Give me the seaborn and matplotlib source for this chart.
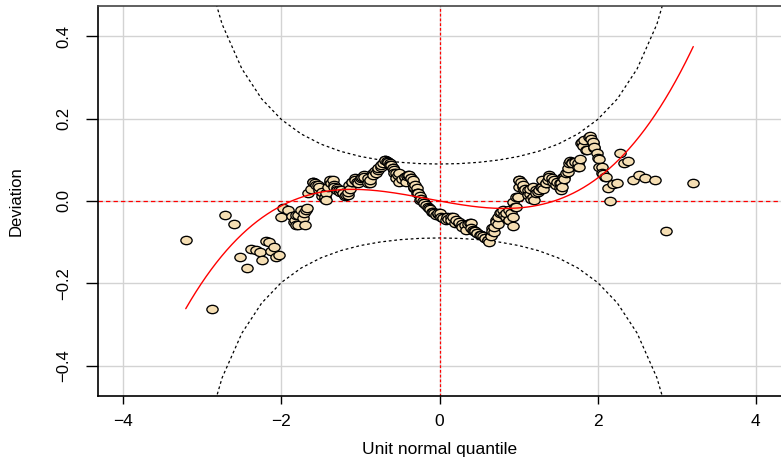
import numpy as np
import seaborn as sns
import matplotlib.pyplot as plt
from math import erf
from matplotlib.path import Path
from matplotlib.transforms import Affine2D

# worm points: unit normal quantile vs deviation
worm_x = [-3.21, -2.88, -2.71, -2.60, -2.52, -2.44, -2.39, -2.32, -2.27, -2.24,
          -2.20, -2.16, -2.13, -2.10, -2.07, -2.03, -2.01, -1.98, -1.92, -1.87,
          -1.84, -1.83, -1.81, -1.81, -1.79, -1.79, -1.75, -1.73, -1.72, -1.70,
          -1.69, -1.68, -1.66, -1.63, -1.60, -1.60, -1.57, -1.56, -1.54, -1.52,
          -1.52, -1.49, -1.49, -1.45, -1.45, -1.43, -1.43, -1.41, -1.39, -1.39,
          -1.37, -1.35, -1.33, -1.33, -1.30, -1.30, -1.27, -1.26, -1.24, -1.22,
          -1.22, -1.19, -1.18, -1.16, -1.16, -1.14, -1.13, -1.11, -1.11, -1.07,
          -1.07, -1.04, -1.03, -1.01, -0.99, -0.98, -0.95, -0.95, -0.91, -0.91,
          -0.88, -0.88, -0.84, -0.84, -0.81, -0.80, -0.78, -0.78, -0.74, -0.74,
          -0.71, -0.69, -0.69, -0.67, -0.65, -0.65, -0.63, -0.63, -0.61, -0.59,
          -0.59, -0.57, -0.57, -0.55, -0.55, -0.53, -0.51, -0.51, -0.48, -0.44,
          -0.44, -0.42, -0.41, -0.40, -0.38, -0.36, -0.36, -0.34, -0.34, -0.34,
          -0.32, -0.32, -0.31, -0.29, -0.29, -0.27, -0.27, -0.25, -0.25, -0.23,
          -0.21, -0.19, -0.19, -0.17, -0.15, -0.13, -0.12, -0.10, -0.08, -0.07,
          -0.04, -0.02, -0.02, 0.00, 0.02, 0.04, 0.05, 0.08, 0.10, 0.11,
          0.14, 0.15, 0.17, 0.19, 0.21, 0.25, 0.25, 0.28, 0.29, 0.32,
          0.34, 0.36, 0.38, 0.40, 0.40, 0.42, 0.44, 0.45, 0.48, 0.48,
          0.51, 0.53, 0.55, 0.57, 0.58, 0.61, 0.61, 0.63, 0.65, 0.65,
          0.67, 0.67, 0.69, 0.69, 0.72, 0.72, 0.74, 0.74, 0.76, 0.78,
          0.80, 0.82, 0.84, 0.84, 0.88, 0.88, 0.88, 0.91, 0.93, 0.93,
          0.93, 0.95, 0.97, 0.97, 0.99, 0.99, 1.00, 1.01, 1.01, 1.03,
          1.05, 1.05, 1.07, 1.08, 1.12, 1.12, 1.15, 1.15, 1.16, 1.18,
          1.18, 1.20, 1.22, 1.22, 1.25, 1.26, 1.28, 1.30, 1.30, 1.31,
          1.35, 1.35, 1.37, 1.39, 1.39, 1.42, 1.43, 1.45, 1.47, 1.48,
          1.52, 1.52, 1.54, 1.54, 1.55, 1.56, 1.58, 1.58, 1.60, 1.62,
          1.62, 1.64, 1.65, 1.68, 1.68, 1.72, 1.75, 1.75, 1.77, 1.78,
          1.79, 1.80, 1.82, 1.83, 1.85, 1.87, 1.89, 1.90, 1.92, 1.94,
          1.94, 1.96, 1.96, 1.99, 2.00, 2.02, 2.02, 2.05, 2.06, 2.07,
          2.09, 2.10, 2.13, 2.16, 2.20, 2.25, 2.28, 2.33, 2.39, 2.45,
          2.52, 2.60, 2.72, 2.87, 3.21]
worm_y = [-0.095, -0.262, -0.033, -0.056, -0.137, -0.163, -0.116, -0.120, -0.125, -0.144,
          -0.096, -0.100, -0.121, -0.111, -0.135, -0.131, -0.040, -0.018, -0.023, -0.036,
          -0.052, -0.046, -0.059, -0.034, -0.034, -0.058, -0.022, -0.042, -0.030, -0.058,
          -0.022, -0.018, 0.019, 0.030, 0.047, 0.047, 0.043, 0.039, 0.039, 0.027,
          0.035, 0.012, 0.023, 0.006, 0.010, 0.019, 0.002, 0.035, 0.047, 0.051,
          0.043, 0.052, 0.039, 0.035, 0.031, 0.027, 0.027, 0.023, 0.027, 0.019,
          0.019, 0.012, 0.015, 0.015, 0.023, 0.039, 0.030, 0.047, 0.047, 0.055,
          0.051, 0.045, 0.043, 0.051, 0.055, 0.058, 0.063, 0.059, 0.055, 0.043,
          0.043, 0.051, 0.067, 0.063, 0.072, 0.067, 0.075, 0.079, 0.083, 0.087,
          0.092, 0.099, 0.099, 0.097, 0.095, 0.095, 0.091, 0.087, 0.087, 0.080,
          0.079, 0.075, 0.067, 0.068, 0.055, 0.063, 0.047, 0.067, 0.053, 0.059,
          0.059, 0.047, 0.061, 0.063, 0.063, 0.055, 0.055, 0.047, 0.043, 0.051,
          0.031, 0.035, 0.038, 0.031, 0.019, 0.019, 0.019, 0.012, 0.002, 0.006,
          0.000, -0.006, -0.006, -0.010, -0.014, -0.018, -0.020, -0.026, -0.026, -0.028,
          -0.034, -0.032, -0.030, -0.030, -0.038, -0.042, -0.042, -0.046, -0.038, -0.044,
          -0.038, -0.046, -0.038, -0.054, -0.046, -0.054, -0.050, -0.056, -0.062, -0.058,
          -0.070, -0.055, -0.054, -0.054, -0.066, -0.070, -0.074, -0.074, -0.078, -0.078,
          -0.082, -0.082, -0.086, -0.090, -0.090, -0.095, -0.095, -0.100, -0.082, -0.086,
          -0.066, -0.074, -0.075, -0.062, -0.046, -0.050, -0.056, -0.038, -0.030, -0.026,
          -0.022, -0.034, -0.038, -0.030, -0.045, -0.046, -0.022, -0.030, -0.060, -0.038,
          -0.002, -0.014, -0.014, 0.010, 0.010, 0.010, 0.035, 0.051, 0.051, 0.045,
          0.035, 0.039, 0.027, 0.030, 0.027, 0.015, 0.018, 0.030, 0.006, 0.010,
          0.035, 0.002, 0.027, 0.019, 0.022, 0.027, 0.035, 0.035, 0.051, 0.030,
          0.043, 0.043, 0.052, 0.063, 0.059, 0.055, 0.047, 0.051, 0.039, 0.047,
          0.043, 0.031, 0.043, 0.027, 0.035, 0.059, 0.059, 0.053, 0.067, 0.071,
          0.080, 0.091, 0.098, 0.095, 0.091, 0.095, 0.083, 0.091, 0.083, 0.101,
          0.140, 0.144, 0.133, 0.148, 0.124, 0.124, 0.156, 0.158, 0.150, 0.140,
          0.144, 0.128, 0.132, 0.116, 0.104, 0.102, 0.083, 0.083, 0.067, 0.066,
          0.059, 0.059, 0.032, 0.001, 0.041, 0.044, 0.117, 0.091, 0.096, 0.051,
          0.063, 0.056, 0.051, -0.072, 0.043]

# fitted cubic (red) and its x range
cubic_coef = [0.0, -0.0354, 0.0055, 0.01305]   # a + b x + c x^2 + d x^3
cubic_range = [-3.21, 3.21]

n_obs = 750          # sample size behind the 95% bands
xlim_all = 4
ylim_all = 12 * np.sqrt(1 / n_obs)

x_ticks = [-4, -2, 0, 2, 4]
y_ticks = [-0.4, -0.2, 0.0, 0.2, 0.4]

sns.set_style("white")
plt.rcParams['font.family'] = ['Liberation Sans', 'DejaVu Sans']
plt.rcParams['text.color'] = 'black'
plt.rcParams['axes.labelcolor'] = 'black'
plt.rcParams['xtick.color'] = 'black'
plt.rcParams['ytick.color'] = 'black'

fig = plt.figure(figsize=(7.81, 4.57), dpi=100)
ax = fig.add_axes([0.1255, 0.1335, 0.8745, 0.8534])

ax.set_xlim(-xlim_all * 1.08, xlim_all * 1.08)
ax.set_ylim(-ylim_all * 1.08, ylim_all * 1.08)

# light grid at the ticks
for v in x_ticks:
    ax.axvline(v, color='#d3d3d3', lw=1, zorder=0)
for v in y_ticks:
    ax.axhline(v, color='#d3d3d3', lw=1, zorder=0)

# 95% bands
lz = np.arange(-xlim_all, xlim_all + 0.001, 0.25)
p = np.array([0.5 * (1 + erf(z / np.sqrt(2))) for z in lz])
dn = np.exp(-lz ** 2 / 2) / np.sqrt(2 * np.pi)
se = (1 / dn) * np.sqrt(p * (1 - p) / n_obs)
high = 1.959964 * se
ax.plot(lz, high, color='black', lw=0.9, ls=(0, (2.2, 2.2)), zorder=1)
ax.plot(lz, -high, color='black', lw=0.9, ls=(0, (2.2, 2.2)), zorder=1)

# reference lines
ax.axhline(0, color='red', lw=0.9, ls=(0, (3.5, 2.5)), zorder=1)
ax.axvline(0, color='red', lw=0.9, ls=(0, (2.2, 1.6)), zorder=1)

# slightly squashed circles, as in the original device
circ = Path.unit_circle()
ell = Path(Affine2D().scale(1.0, 0.74).transform(circ.vertices), circ.codes)
sns.scatterplot(x=worm_x, y=worm_y, ax=ax, marker=ell, s=66, color='#f5deb3',
                edgecolor='black', linewidth=0.95, zorder=3)

# fitted cubic
cx = np.linspace(cubic_range[0], cubic_range[1], 200)
cy = sum(c * cx ** i for i, c in enumerate(cubic_coef))
ax.plot(cx, cy, color='red', lw=1.0, zorder=4)

ax.set_xticks(x_ticks)
ax.set_xticklabels(['\u22124', '\u22122', '0', '2', '4'], fontsize=12.5)
ax.set_yticks(y_ticks)
ax.set_yticklabels(['\u22120.4', '\u22120.2', '0.0', '0.2', '0.4'], rotation=90,
                   va='center', fontsize=12)
ax.tick_params(axis='x', length=6, width=1, pad=7, direction='out', bottom=True)
ax.tick_params(axis='y', length=9, width=1, pad=10, direction='out', left=True)

ax.set_xlabel("Unit normal quantile", fontsize=12.5, labelpad=9)
ax.set_ylabel("Deviation", fontsize=12, labelpad=24)

for side in ['left', 'bottom']:
    ax.spines[side].set_color('black')
    ax.spines[side].set_linewidth(1.2)
ax.spines['top'].set_color('#444444')
ax.spines['top'].set_linewidth(1.2)
ax.spines['right'].set_visible(False)

fig.savefig("out.png", dpi=100)
